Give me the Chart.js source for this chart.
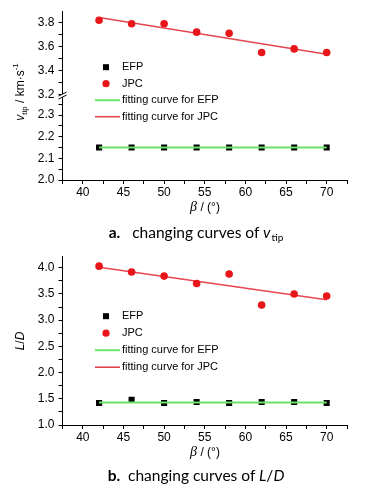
<!DOCTYPE html>
<html><head><meta charset="utf-8">
<script src="https://cdn.jsdelivr.net/npm/chart.js@4"></script>
<style>
html,body{margin:0;padding:0;background:#fff;}
body{width:376px;height:488px;position:relative;overflow:hidden;font-family:"Liberation Sans",Arial,sans-serif;color:#000;}
canvas{position:absolute;left:0;}
.t{position:absolute;white-space:nowrap;line-height:1;}
.rot{transform:translate(-50%,-50%) rotate(-90deg);}
.ctr{transform:translate(-50%,-50%);}
.ax{font-size:12px;}
.ax sub{font-size:8px;vertical-align:-3px;}
.ax sup{font-size:8px;vertical-align:6px;}
.cap{font-family:Lato,"Open Sans",sans-serif;font-size:15.5px;}
.cap sub{font-size:10px;vertical-align:-3px;margin-left:1px;}
.gr{font-family:"Liberation Serif",serif;font-style:italic;font-size:14px;}
</style></head><body>
<canvas id="c1" width="376" height="215" style="top:0"></canvas>
<canvas id="c2" width="376" height="215" style="top:245px"></canvas>

<div class="t ax rot" style="left:20px;top:92px;"><i>v</i><sub>tip</sub> / km·s<sup>-1</sup></div>
<div class="t ax ctr" style="left:205px;top:207px;"><span class="gr">β</span> / (°)</div>
<div class="t cap ctr" style="left:196px;top:233px;"><b>a.</b>&nbsp;&nbsp; changing curves of <i>v</i><sub>tip</sub></div>

<div class="t ax rot" style="left:20px;top:341px;"><i>L</i>/<i>D</i></div>
<div class="t ax ctr" style="left:205px;top:452px;"><span class="gr">β</span> / (°)</div>
<div class="t cap ctr" style="left:196px;top:476px;"><b>b.</b>&nbsp;&nbsp;changing curves of <i>L</i>/<i>D</i></div>

<script>
// ---- data ----
const betaDeg = [42, 46, 50, 54, 58, 62, 66, 70];
const vtipEFP = [2.15, 2.15, 2.15, 2.15, 2.15, 2.15, 2.15, 2.15];
const vtipJPC = [3.82, 3.79, 3.79, 3.72, 3.71, 3.55, 3.58, 3.55];
const fitBeta = [42, 70];
const vtipFitEFP = [2.15, 2.15];
const vtipFitJPC = [3.843, 3.536];
const ldEFP = [1.42, 1.48, 1.42, 1.44, 1.42, 1.44, 1.44, 1.42];
const ldJPC = [4.03, 3.92, 3.84, 3.70, 3.88, 3.29, 3.50, 3.46];
const ldFitEFP = [1.43, 1.43];
const ldFitJPC = [4.01, 3.39];
const xTickLabels = [40, 45, 50, 55, 60, 65, 70];
const legendLabels = ['EFP', 'JPC', 'fitting curve for EFP', 'fitting curve for JPC'];

const pts = (xs, ys) => xs.map((x, i) => ({x: x, y: ys[i]}));
const TICKFONT = {family: '"Liberation Sans Narrow","Liberation Sans",Arial,sans-serif', size: 12};
const RED = 'rgb(232,22,26)';
const REDLINE = 'rgb(228,70,80)';
const GREEN = 'rgb(105,228,105)';
const isMult = (v, m) => Math.abs(v / m - Math.round(v / m)) < 1e-4;

function xScale() {
  return {
    type: 'linear', min: 37.5, max: 72.5,
    ticks: {stepSize: 2.5, includeBounds: false, autoSkip: false, maxRotation: 0, padding: 1,
      color: '#000', font: TICKFONT,
      callback: v => xTickLabels.some(t => Math.abs(t - v) < 1e-6) ? String(Math.round(v)) : ''},
    grid: {drawOnChartArea: false, color: '#000', tickLength: 4, tickWidth: 1},
    border: {color: '#000', width: 1},
    afterFit: s => { s.height = 35; }
  };
}
function yScale(min, max, step, major, extra) {
  return Object.assign({
    type: 'linear', position: 'left', min: min, max: max,
    ticks: {stepSize: step, includeBounds: false, autoSkip: false, padding: 4, color: '#000', font: TICKFONT,
      callback: v => isMult(Number(v), major) ? Number(v).toFixed(1) : ''},
    grid: {drawOnChartArea: false, color: '#000', tickLength: 4, tickWidth: 1},
    border: {color: '#000', width: 1},
    afterFit: s => { s.width = 62.5; }
  }, extra || {});
}

const legendPlugin = {
  id: 'innerLegend',
  afterDraw(chart, args, o) {
    const ctx = chart.ctx;
    const top = chart.chartArea.top;
    ctx.save();
    ctx.font = '11px "Liberation Sans", Arial, sans-serif';
    ctx.textBaseline = 'middle';
    const ys = o.rows.map(r => top + r);
    ctx.fillStyle = '#000';
    ctx.fillRect(o.mx - 3, ys[0] - 3, 6, 6);
    ctx.fillStyle = RED;
    ctx.beginPath(); ctx.arc(o.mx, ys[1], 3.6, 0, Math.PI * 2); ctx.fill();
    ctx.lineWidth = 2; ctx.strokeStyle = GREEN;
    ctx.beginPath(); ctx.moveTo(o.lx0, ys[2]); ctx.lineTo(o.lx1, ys[2]); ctx.stroke();
    ctx.lineWidth = 1.6; ctx.strokeStyle = REDLINE;
    ctx.beginPath(); ctx.moveTo(o.lx0, ys[3]); ctx.lineTo(o.lx1, ys[3]); ctx.stroke();
    ctx.fillStyle = '#000';
    legendLabels.forEach((t, i) => ctx.fillText(t, o.tx, ys[i]));
    ctx.restore();
  }
};

const breakPlugin = {
  id: 'axisBreak',
  afterDraw(chart, args, o) {
    if (!o.on) return;
    const yU = chart.scales.yU, yL = chart.scales.yL;
    const b = (yU.bottom + yL.top) / 2;
    const x = chart.chartArea.left;
    const ctx = chart.ctx;
    ctx.save();
    ctx.fillStyle = '#fff';
    ctx.fillRect(x - 1.5, b - 1.5, 3, 3);
    ctx.strokeStyle = '#000'; ctx.lineWidth = 1;
    ctx.beginPath();
    ctx.moveTo(x - 4, b + 0.5); ctx.lineTo(x + 4, b - 3.5);
    ctx.moveTo(x - 4, b + 3.5); ctx.lineTo(x + 4, b - 0.5);
    ctx.stroke();
    ctx.restore();
  }
};

function datasets(efp, jpc, fitE, fitJ, yE, yJ) {
  const a = yE ? {yAxisID: yE} : {};
  const b = yJ ? {yAxisID: yJ} : {};
  return [
    Object.assign({label: 'EFP', data: pts(betaDeg, efp), pointStyle: 'rect', pointRadius: 4.3,
      backgroundColor: '#000', borderColor: '#000', borderWidth: 0, showLine: false, order: 2}, a),
    Object.assign({label: 'JPC', data: pts(betaDeg, jpc), pointStyle: 'circle', pointRadius: 3.8,
      backgroundColor: RED, borderColor: RED, borderWidth: 0, showLine: false, order: 1}, b),
    Object.assign({label: 'fitting curve for EFP', data: pts(fitBeta, fitE), showLine: true, pointRadius: 0,
      borderColor: GREEN, borderWidth: 2, order: 0}, a),
    Object.assign({label: 'fitting curve for JPC', data: pts(fitBeta, fitJ), showLine: true, pointRadius: 0,
      borderColor: REDLINE, borderWidth: 1.6, order: 3}, b)
  ];
}

const common = {
  responsive: false, animation: false, devicePixelRatio: 1,
  layout: {padding: {left: 0, right: 29, top: 10, bottom: 0}},
};

new Chart(document.getElementById('c1'), {
  type: 'scatter',
  data: {datasets: datasets(vtipEFP, vtipJPC, vtipFitEFP, vtipFitJPC, 'yL', 'yU')},
  options: Object.assign({}, common, {
    scales: {
      x: xScale(),
      yL: yScale(2.0, 2.39, 0.05, 0.1, {stack: 'v', stackWeight: 1}),
      yU: yScale(3.19, 3.895, 0.1, 0.2, {stack: 'v', stackWeight: 1})
    },
    plugins: {legend: {display: false}, tooltip: {enabled: false},
      innerLegend: {rows: [56, 72.5, 89, 105.5], mx: 106, lx0: 95, lx1: 120, tx: 122},
      axisBreak: {on: true}}
  }),
  plugins: [legendPlugin, breakPlugin]
});

new Chart(document.getElementById('c2'), {
  type: 'scatter',
  data: {datasets: datasets(ldEFP, ldJPC, ldFitEFP, ldFitJPC)},
  options: Object.assign({}, common, {
    scales: {
      x: xScale(),
      y: yScale(1.0, 4.22, 0.25, 0.5)
    },
    plugins: {legend: {display: false}, tooltip: {enabled: false},
      innerLegend: {rows: [60, 77, 94, 111], mx: 106, lx0: 95, lx1: 120, tx: 122},
      axisBreak: {on: false}}
  }),
  plugins: [legendPlugin, breakPlugin]
});
</script>
</body></html>
